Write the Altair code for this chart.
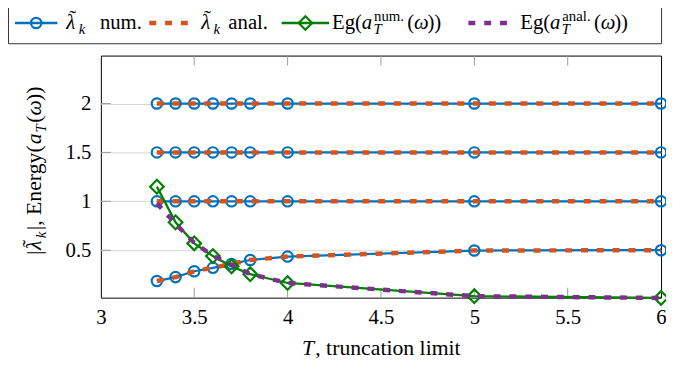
import altair as alt
import pandas as pd

# ---------------- data ----------------
T = [3.3, 3.4, 3.5, 3.6, 3.7, 3.8, 4.0, 5.0, 6.0]

lam_num_1 = [2.0, 2.0, 2.0, 2.0, 2.0, 2.0, 2.0, 2.0, 2.0]
lam_num_2 = [1.5, 1.5, 1.5, 1.5, 1.5, 1.5, 1.5, 1.5, 1.5]
lam_num_3 = [1.0, 1.0, 1.0, 1.0, 1.0, 1.0, 1.0, 1.0, 1.0]
lam_num_4 = [0.185, 0.225, 0.285, 0.32, 0.36, 0.40, 0.435, 0.497, 0.50]

lam_anal_1 = [2.0, 2.0, 2.0, 2.0, 2.0, 2.0, 2.0, 2.0, 2.0]
lam_anal_2 = [1.5, 1.5, 1.5, 1.5, 1.5, 1.5, 1.5, 1.5, 1.5]
lam_anal_3 = [1.0, 1.0, 1.0, 1.0, 1.0, 1.0, 1.0, 1.0, 1.0]
lam_anal_4 = [0.185, 0.225, 0.285, 0.32, 0.36, 0.40, 0.435, 0.497, 0.50]

eg_num = [1.15, 0.785, 0.57, 0.44, 0.335, 0.255, 0.165, 0.03, 0.012]
eg_anal = [0.98, 0.77, 0.575, 0.445, 0.35, 0.255, 0.165, 0.03, 0.012]

x_ticks = [3, 3.5, 4, 4.5, 5, 5.5, 6]
x_inner_ticks = [3.5, 4, 4.5, 5, 5.5]
y_ticks = [0.5, 1, 1.5, 2]

BLUE = "#0072BD"
ORANGE = "#D95319"
GREEN = "#008000"
PURPLE = "#7E2F8E"
FONT = "Liberation Serif, Times New Roman, serif"


def long(series_list):
    rows = []
    for i, s in enumerate(series_list):
        for t, v in zip(T, s):
            rows.append({"T": t, "v": v, "k": i})
    return pd.DataFrame(rows)


df_ln = long([lam_num_1, lam_num_2, lam_num_3, lam_num_4])
df_la = long([lam_anal_1, lam_anal_2, lam_anal_3, lam_anal_4])
df_en = long([eg_num])
df_ea = long([eg_anal])
df_xt = pd.DataFrame({"t": x_inner_ticks})
df_yt = pd.DataFrame({"t": y_ticks})
one = pd.DataFrame({"a": [0]})

xs = alt.Scale(domain=[3, 6], nice=False, zero=False)
ys = alt.Scale(domain=[0.015, 2.49], nice=False, zero=False)
xax = alt.Axis(values=x_ticks, format="~g", grid=False, labelPadding=9,
               labelFlush=False, labelOverlap=False, title=None)
yax = alt.Axis(values=y_ticks, format="~g", grid=True, labelPadding=10,
               labelFlush=False, labelOverlap=False, title=None)


def X(f):
    return alt.X(f + ":Q", scale=xs, axis=xax)


def Y(f):
    return alt.Y(f + ":Q", scale=ys, axis=yax)


W, H = 567, 245
layers = []

# inner tick marks
TICK = "#9a9a9a"
layers.append(alt.Chart(df_xt).mark_rule(color=TICK, strokeWidth=1).encode(
    x=X("t"), y=alt.value(H), y2=alt.value(H - 10)))
layers.append(alt.Chart(df_xt).mark_rule(color=TICK, strokeWidth=1).encode(
    x=X("t"), y=alt.value(0), y2=alt.value(10)))
layers.append(alt.Chart(df_yt).mark_rule(color=TICK, strokeWidth=1).encode(
    y=Y("t"), x=alt.value(0), x2=alt.value(10)))
layers.append(alt.Chart(df_yt).mark_rule(color=TICK, strokeWidth=1).encode(
    y=Y("t"), x=alt.value(W - 10), x2=alt.value(W)))

# data series
CS, DS = 110, 190
layers.append(alt.Chart(df_ln).mark_line(color=BLUE, strokeWidth=2.3).encode(
    x=X("T"), y=Y("v"), detail="k:N"))
layers.append(alt.Chart(df_ln).mark_point(shape="circle", size=CS, filled=False, color=BLUE,
                                          strokeWidth=2.2, opacity=1).encode(x=X("T"), y=Y("v")))
layers.append(alt.Chart(df_la).mark_line(color=ORANGE, strokeWidth=4.5, strokeDash=[7, 9]).encode(
    x=X("T"), y=Y("v"), detail="k:N"))
layers.append(alt.Chart(df_en).mark_line(color=GREEN, strokeWidth=2.3).encode(
    x=X("T"), y=Y("v"), detail="k:N"))
layers.append(alt.Chart(df_en).mark_point(shape="diamond", size=DS, filled=False, color=GREEN,
                                          strokeWidth=2.2, opacity=1).encode(x=X("T"), y=Y("v")))
layers.append(alt.Chart(df_ea).mark_line(color=PURPLE, strokeWidth=4.5, strokeDash=[7, 9]).encode(
    x=X("T"), y=Y("v"), detail="k:N"))


# ---------------- text helpers ----------------
def txt(s, x, y, size=21, italic=False, dy=0, dx=0, angle=0):
    kw = dict(text=s, align="left", baseline="alphabetic", font=FONT, fontSize=size,
              fontStyle="italic" if italic else "normal", color="black")
    if dy:
        kw["dy"] = dy
    if dx:
        kw["dx"] = dx
    if angle:
        kw["angle"] = angle
    return alt.Chart(one).mark_text(**kw).encode(x=alt.value(x), y=alt.value(y))


LAM = "\u03bb"
TIL = "\u02dc"

# ---------------- legend ----------------
layers.append(alt.Chart(one).mark_rect(fill="white", stroke="#333333", strokeWidth=1).encode(
    x=alt.value(-93.5), x2=alt.value(567.5), y=alt.value(-50), y2=alt.value(-12)))
LY = -33
TY = -27
layers.append(alt.Chart(one).mark_rule(color=BLUE, strokeWidth=2.3).encode(
    x=alt.value(-87), x2=alt.value(-44), y=alt.value(LY)))
layers.append(alt.Chart(one).mark_point(shape="circle", size=CS, filled=False, color=BLUE,
                                        strokeWidth=2.2, opacity=1).encode(x=alt.value(-65.5), y=alt.value(LY)))
layers.append(alt.Chart(one).mark_rule(color=ORANGE, strokeWidth=4.5, strokeDash=[7, 9]).encode(
    x=alt.value(49), x2=alt.value(89), y=alt.value(LY)))
layers.append(alt.Chart(one).mark_rule(color=GREEN, strokeWidth=2.3).encode(
    x=alt.value(183), x2=alt.value(231), y=alt.value(LY)))
layers.append(alt.Chart(one).mark_point(shape="diamond", size=DS, filled=False, color=GREEN,
                                        strokeWidth=2.2, opacity=1).encode(x=alt.value(207), y=alt.value(LY)))
layers.append(alt.Chart(one).mark_rule(color=PURPLE, strokeWidth=4.5, strokeDash=[7, 9]).encode(
    x=alt.value(372), x2=alt.value(413), y=alt.value(LY)))

# entry 1
layers += [txt(LAM, -35, TY, italic=True), txt(TIL, -32, TY, size=21, dy=-4),
           txt("k", -22.5, TY, size=15, italic=True, dy=5), txt("num.", -1, TY)]
# entry 2
layers += [txt(LAM, 101.5, TY, italic=True), txt(TIL, 104.5, TY, size=21, dy=-4),
           txt("k", 114, TY, size=15, italic=True, dy=5), txt("anal.", 129, TY)]
# entry 3
layers += [txt("Eg(", 234, TY), txt("a", 264, TY, italic=True),
           txt("T", 276, TY, size=15, italic=True, dy=5), txt("num.", 276.5, TY, size=15, dy=-8),
           txt("(", 310, TY), txt("\u03c9", 317, TY, italic=True), txt("))", 330.5, TY)]
# entry 4
layers += [txt("Eg(", 424.5, TY), txt("a", 454.5, TY, italic=True),
           txt("T", 466.5, TY, size=15, italic=True, dy=5), txt("anal.", 467, TY, size=15, dy=-8),
           txt("(", 499, TY), txt("\u03c9", 506, TY, italic=True), txt("))", 519.5, TY)]

# ---------------- x-axis title ----------------
layers += [txt("T", 203.5, 303, size=22, italic=True), txt(", truncation limit", 217, 303, size=22)]

# ---------------- y-axis title (rotated, pieces) ----------------
YF = 22
pieces = [
    ("|", False, YF, 0, 0, 4.4 + 0.5),
    (LAM, True, YF, 0, 0, 0.0),
    (TIL, False, YF, -4, 3.0, 11.0 + 1.0),
    ("k", True, 15, 5, 0, 6.7 + 1.5),
    ("|, Energy(", False, YF, 0, 0, 86.3 + 0.5),
    ("a", True, YF, 0, 0, 11.0 + 1.0),
    ("T", True, 15, 5, 0, 8.3 + 1.5),
    ("(", False, YF, 0, 0, 7.3),
    ("\u03c9", True, YF, 0, 0, 14.3 + 0.5),
    ("))", False, YF, 0, 0, 14.7),
]
total = sum(p[5] for p in pieces)
center_y = 170.5 - 54
start_y = center_y + total / 2
off = 0.0
for s, it, sz, dyy, extra, w in pieces:
    layers.append(txt(s, -61, start_y, size=sz, italic=it, dy=dyy, dx=off + extra, angle=270))
    off += w

chart = alt.layer(*layers).properties(
    width=W, height=H,
    autosize=alt.AutoSizeParams(type="none"),
    padding={"left": 94, "top": 46, "right": 5, "bottom": 67},
).configure_view(
    stroke="black", strokeWidth=1
).configure_axis(
    labelFont=FONT, labelFontSize=21, labelColor="black",
    domain=False, ticks=False, tickSize=0,
    gridColor="#d4d4d4", gridWidth=1,
)

chart.save("out.html", embed_options={"renderer": "svg", "actions": False})
